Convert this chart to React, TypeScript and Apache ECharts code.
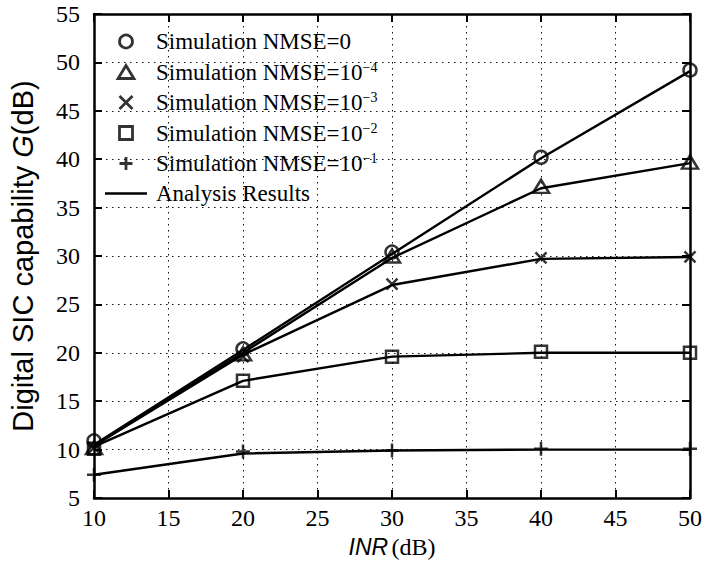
import { useEffect, useRef } from "react";
import * as echarts from "echarts";

const inr = [10, 20, 30, 40, 50];

const simNmse0 = [10.9, 20.4, 30.4, 40.2, 49.2];
const simNmse4 = [10.2, 19.9, 30.0, 37.2, 39.7];
const simNmse3 = [10.2, 19.6, 27.1, 29.8, 29.9];
const simNmse2 = [10.1, 17.1, 19.6, 20.1, 20.0];
const simNmse1 = [7.4, 9.8, 9.9, 10.1, 10.1];

const anaNmse0 = [10.5, 20.3, 30.2, 40.1, 49.1];
const anaNmse4 = [10.4, 20.0, 29.8, 37.0, 39.6];
const anaNmse3 = [10.4, 19.8, 27.0, 29.7, 29.9];
const anaNmse2 = [10.3, 17.1, 19.6, 20.0, 20.0];
const anaNmse1 = [7.4, 9.6, 9.9, 10.0, 10.0];

const simNames = [
  "Simulation NMSE=0",
  "Simulation NMSE=10−4",
  "Simulation NMSE=10−3",
  "Simulation NMSE=10−2",
  "Simulation NMSE=10−1",
];
const legendRich: Record<string, string> = {
  "Simulation NMSE=0": "{t|Simulation NMSE=0}",
  "Simulation NMSE=10−4": "{t|Simulation NMSE=10}{s|−4}",
  "Simulation NMSE=10−3": "{t|Simulation NMSE=10}{s|−3}",
  "Simulation NMSE=10−2": "{t|Simulation NMSE=10}{s|−2}",
  "Simulation NMSE=10−1": "{t|Simulation NMSE=10}{s|−1}",
  "Analysis Results": "{t|Analysis Results}",
};
const analysisName = "Analysis Results";

const serif = "Liberation Serif";
const sans = "Liberation Sans";

const CIRCLE = "circle";
const TRIANGLE = "path://M5,0L10,8.2L0,8.2Z";
const CROSS = "path://M0,0L10,10M10,0L0,10";
const SQUARE = "path://M0,0L10,0L10,10L0,10Z";
const PLUS = "path://M5,0L5,10M0,5L10,5";
const LINE_ICON = "path://M0,0L42,0L42,2.5L0,2.5Z";

export default function App() {
  const ref = useRef<HTMLDivElement>(null);
  useEffect(() => {
    if (!ref.current) return;
    const chart = echarts.init(ref.current, undefined, { renderer: "svg" });
    const pair = (ys: number[]) => inr.map((x, i) => [x, ys[i]]);
    const markerStyle = { color: "none", borderColor: "#000", borderWidth: 2.5 };
    const sims = [simNmse0, simNmse4, simNmse3, simNmse2, simNmse1];
    const anas = [anaNmse0, anaNmse4, anaNmse3, anaNmse2, anaNmse1];
    const symbols: any[] = [
      [CIRCLE, 13],
      [TRIANGLE, [16, 13]],
      [CROSS, 11],
      [SQUARE, 12],
      [PLUS, 14],
    ];
    const legendIcons = [
      [CIRCLE, 12],
      [TRIANGLE, 12],
      [CROSS, 11],
      [SQUARE, 11],
      [PLUS, 13],
    ];
    const series: any[] = [];
    anas.forEach((a) => {
      series.push({
        type: "line",
        name: analysisName,
        data: pair(a),
        symbol: "none",
        showSymbol: false,
        lineStyle: { color: "#000", width: 2.4 },
        itemStyle: { color: "#000" },
        clip: false,
        z: 2,
      });
    });
    sims.forEach((s, i) => {
      series.push({
        type: "scatter",
        name: simNames[i],
        data: pair(s),
        symbol: symbols[i][0],
        symbolSize: symbols[i][1],
        itemStyle: markerStyle,
        clip: false,
        z: 3,
      });
    });
    const legendData: any[] = simNames.map((n, i) => ({
      name: n,
      icon: legendIcons[i][0],
      itemStyle: { color: "none", borderColor: "#000", borderWidth: 2.8 },
    }));
    legendData.push({
      name: analysisName,
      icon: LINE_ICON,
      itemStyle: { color: "#000", borderWidth: 0 },
    });
    const axisCommon = {
      axisLine: { show: true, lineStyle: { color: "#000", width: 2.5 } },
      axisTick: { show: true, inside: true, length: 8, lineStyle: { color: "#000", width: 2 } },
    };
    chart.setOption({
      animation: false,
      backgroundColor: "#fff",
      grid: { left: 92, right: 14, top: 14, bottom: 69, containLabel: false },
      legend: {
        orient: "vertical",
        left: 105,
        top: 30,
        padding: 0,
        itemWidth: 42,
        itemHeight: 13,
        itemGap: 7,
        symbolKeepAspect: true,
        data: legendData,
        formatter: (n: string) => legendRich[n] ?? n,
        textStyle: {
          color: "#000",
          fontFamily: serif,
          fontSize: 23,
          padding: [0, 0, 0, 4],
          rich: {
            t: { fontFamily: serif, fontSize: 23, color: "#000", lineHeight: 24 },
            s: { fontFamily: serif, fontSize: 14, color: "#000", verticalAlign: "top", lineHeight: 14 },
          },
        },
      },
      xAxis: [
        {
          type: "value",
          min: 10,
          max: 50,
          interval: 5,
          position: "bottom",
          ...axisCommon,
          axisLabel: { color: "#000", fontFamily: serif, fontSize: 24, margin: 8, showMinLabel: true, showMaxLabel: true },
          splitLine: { show: true, lineStyle: { color: "#111", width: 1, type: [1.5, 4.5] } },
          name: "{i|INR} {n|(dB)}",
          nameLocation: "middle",
          nameGap: 31,
          nameTextStyle: {
            rich: {
              i: { fontFamily: sans, fontStyle: "italic", fontSize: 23, color: "#000" },
              n: { fontFamily: serif, fontSize: 24, color: "#000" },
            },
          },
        },
        {
          type: "value",
          min: 10,
          max: 50,
          interval: 5,
          position: "top",
          ...axisCommon,
          axisLabel: { show: false },
          splitLine: { show: false },
        },
      ],
      yAxis: [
        {
          type: "value",
          min: 5,
          max: 55,
          interval: 5,
          position: "left",
          ...axisCommon,
          axisLabel: { color: "#000", fontFamily: serif, fontSize: 24, margin: 14, showMinLabel: true, showMaxLabel: true },
          splitLine: { show: true, lineStyle: { color: "#111", width: 1, type: [1.5, 4.5] } },
          name: "{n|Digital SIC capability }{i|G}{n|(dB)}",
          nameLocation: "middle",
          nameGap: 57,
          nameTextStyle: {
            rich: {
              n: { fontFamily: sans, fontSize: 29, color: "#000" },
              i: { fontFamily: sans, fontStyle: "italic", fontSize: 29, color: "#000" },
            },
          },
        },
        {
          type: "value",
          min: 5,
          max: 55,
          interval: 5,
          position: "right",
          ...axisCommon,
          axisLabel: { show: false },
          splitLine: { show: false },
        },
      ],
      series,
    });
    return () => chart.dispose();
  }, []);
  return (
    <div
      ref={ref}
      style={{ position: "fixed", left: 0, top: 0, width: 705, height: 567, background: "#fff" }}
    />
  );
}
